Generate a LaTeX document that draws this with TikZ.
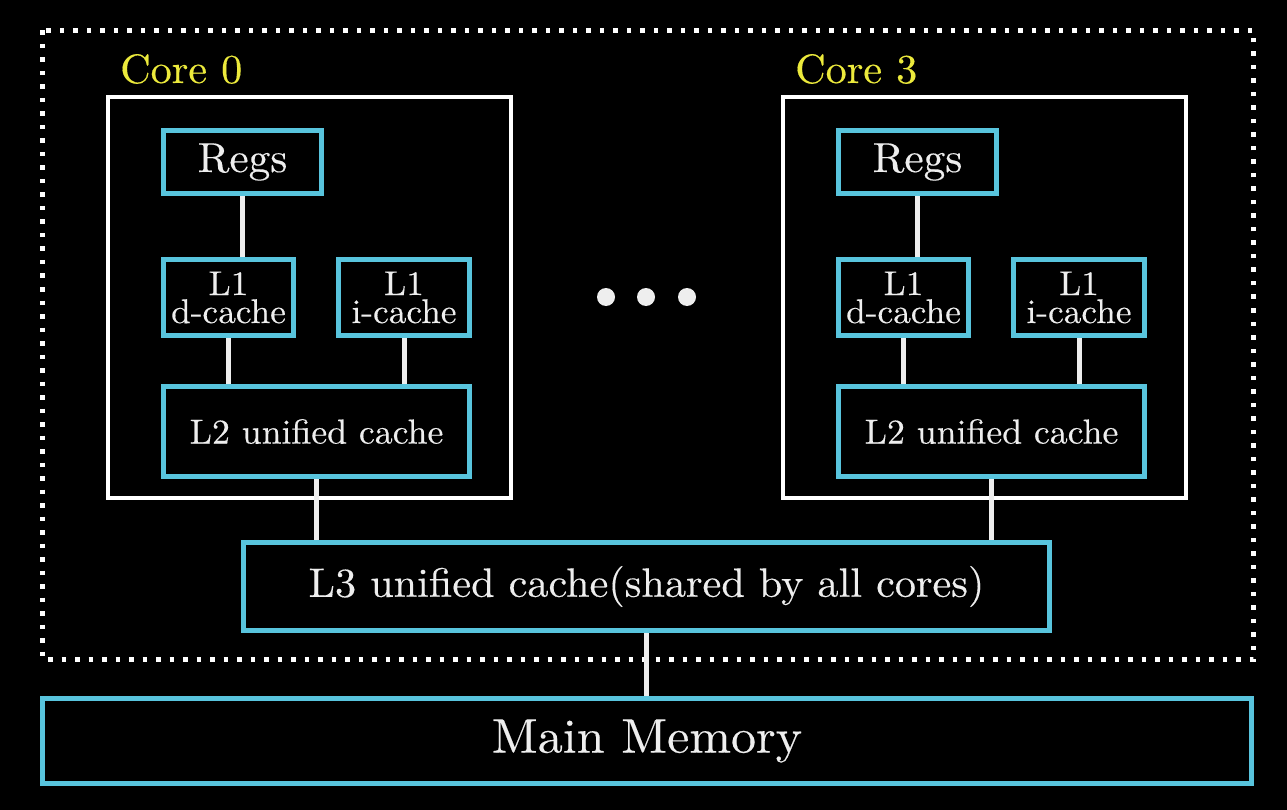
\documentclass[tikz,border=0pt]{standalone}
\usepackage{fontspec}
\setmainfont{lmroman10-regular.otf}[FakeStretch=1.03,FakeBold=0.3]
\definecolor{cacheblue}{HTML}{58C4DD}
\definecolor{coreyellow}{RGB}{236,234,60}
\definecolor{labelwhite}{RGB}{238,238,238}
\begin{document}
\begin{tikzpicture}[x=1pt,y=-1pt,
    inner sep=0pt,
    cache/.style={draw=cacheblue,line width=5pt,text=labelwhite,align=center},
    link/.style={draw=labelwhite,line width=5pt},
    corebox/.style={draw=white,line width=4pt},
    corelabel/.style={text=coreyellow,anchor=base west,font=\fontsize{41}{49}\selectfont},
    chip/.style={draw=white,line width=4.5pt,dash pattern=on 4.5pt off 9pt}]
    \fill[black] (0,0) rectangle (1287,810);
    \path[use as bounding box] (0,0) rectangle (1287,810);
    % the whole chip
    \draw[chip] (42.5,30.5) rectangle (1253.5,659.5);
    \node[cache,minimum width=806pt,minimum height=88pt,
      font=\fontsize{41}{48}\selectfont] (lthree) at (646.5,586.5)
      {L3 unified cache(shared by all cores)};
    \node[cache,minimum width=1209pt,minimum height=85pt,
      font=\fontsize{48.6}{58}\selectfont] (mem) at (647,741) {Main Memory};
    \foreach \n/\dx in {0/0,3/675} {
      \node[corebox,minimum width=403pt,minimum height=401pt] (core\n) at (309.5+\dx,297.5) {};
      \node[corelabel] (corename\n) at (120+\dx,83) {Core \n};
      \node[cache,minimum width=158pt,minimum height=63pt,
        font=\fontsize{42}{50}\selectfont] (regs\n) at (242.5+\dx,162) {Regs};
      \node[cache,minimum width=130pt,minimum height=76pt,
        font=\fontsize{34.3}{28}\selectfont] (l1d\n) at (228.5+\dx,297.5) {L1\\d-cache};
      \node[cache,minimum width=131pt,minimum height=76pt,
        font=\fontsize{34.3}{28}\selectfont] (l1i\n) at (404+\dx,297.5) {L1\\i-cache};
      \node[cache,minimum width=306pt,minimum height=90pt,
        font=\fontsize{34.7}{41}\selectfont] (ltwo\n) at (316.5+\dx,431.5) {L2 unified cache};
      \draw[link] (regs\n.south) -- (regs\n.south |- l1d\n.north);
      \draw[link] (l1d\n.south) -- (l1d\n.south |- ltwo\n.north);
      \draw[link] (l1i\n.south) -- (l1i\n.south |- ltwo\n.north);
      \draw[link] (ltwo\n.south) -- (ltwo\n.south |- lthree.north);
    }
    \draw[link] (lthree.south) -- (lthree.south |- mem.north);
    % cores 1 and 2 left out
    \foreach \x in {606,646,687} {\fill[labelwhite] (\x,297) circle (9pt);}
  \end{tikzpicture}
\end{document}
